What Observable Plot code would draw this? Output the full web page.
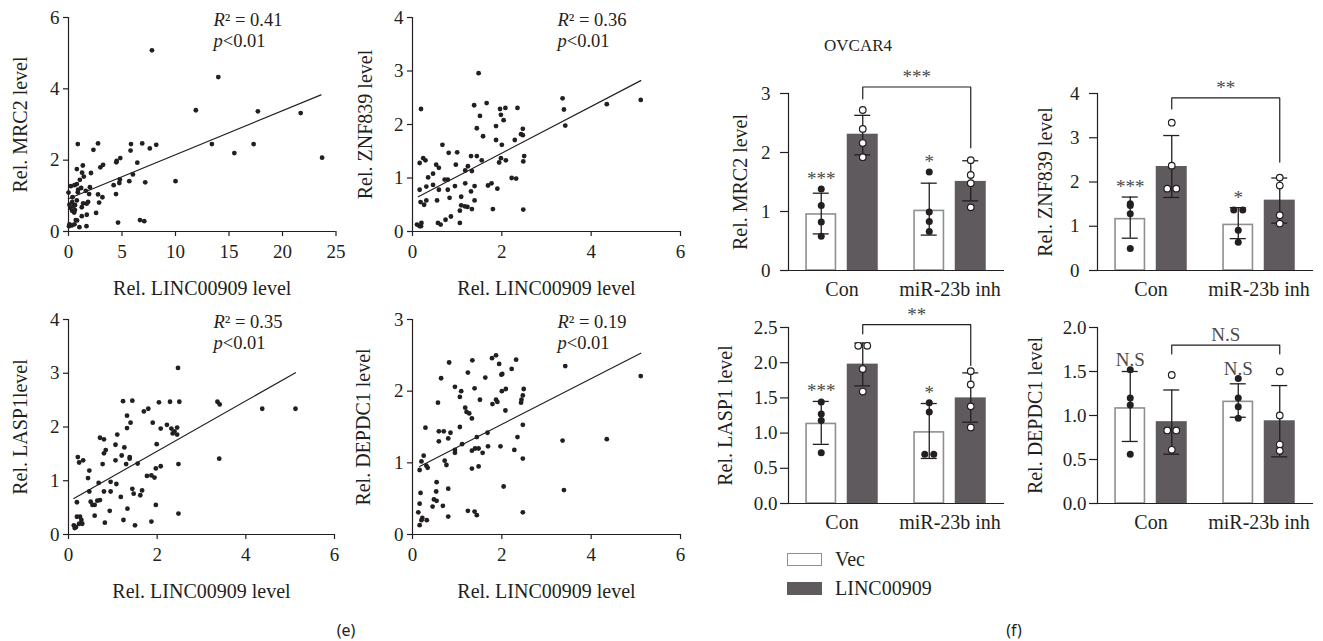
<!DOCTYPE html>
<html>
<head>
<meta charset="utf-8">
<script src="https://cdn.jsdelivr.net/npm/d3@7"></script>
<script src="https://cdn.jsdelivr.net/npm/@observablehq/plot@0.6"></script>
<style>
  html, body { margin: 0; padding: 0; background: #fff; }
  body { width: 1323px; height: 641px; position: relative; overflow: hidden; font-family: "Liberation Serif", "Times New Roman", serif; color: #231f20; }
  .panel { position: absolute; }
  .note { position: absolute; text-align: center; white-space: nowrap; }
  .legend { position: absolute; font-size: 20px; }
  .legend .row { display: flex; align-items: center; height: 29px; }
  .legend .sw { width: 35px; height: 13px; box-sizing: border-box; margin-right: 13px; }
  .caption { position: absolute; width: 60px; text-align: center; font-family: "Noto Sans", sans-serif; font-size: 16px; line-height: 20px; }
</style>
</head>
<body>
<script>
// ---------------- DATA ----------------
const xLabel = "Rel. LINC00909 level";

// (e) scatter plots: [Rel. LINC00909 level, Rel. gene level]
const mrc2Scatter = [[7.8,5.08],[14.0,4.33],[11.9,3.40],[17.7,3.37],[21.7,3.32],[23.7,2.07],[13.4,2.45],[17.3,2.45],[15.5,2.20],[10.0,1.41],
  [0.87,2.45],[2.76,2.47],[2.33,2.29],[5.84,2.45],[6.89,2.47],[7.6,2.33],[8.2,2.43],[5.8,2.27],
  [1.34,1.85],[0.78,1.75],[1.27,1.65],[1.43,1.54],[2.1,1.64],[2.98,1.80],[3.23,1.87],[4.47,1.94],[4.5,1.98],[4.84,2.06],[6.43,1.93],
  [4.8,1.46],[4.75,1.36],[5.68,1.41],[6.02,1.60],[7.17,1.38],[4.22,1.30],[4.44,1.05],[4.63,0.25],[6.68,0.32],[7.08,0.29],
  [2.76,1.04],[2.86,0.81],[3.17,0.96],[2.58,0.52],
  [0.0,1.09],[0.22,1.27],[0.56,1.30],[0.78,1.33],[1.06,1.45],[0.9,1.17],[1.18,1.22],[1.61,1.14],[1.93,1.05],[2.0,1.24],
  [1.7,0.78],[1.83,0.83],[1.37,0.79],[1.24,0.68],[0.62,0.74],[0.34,0.58],[0.53,0.53],[0.09,0.75],
  [0.09,0.2],[0.31,0.17],[0.56,0.2],[0.68,0.32],[1.02,0.12],[1.68,0.15],[1.24,0.43],[1.71,0.47],[0.8,0.31],
  [0.37,0.96],[0.87,1.10],[0.34,0.82],[0.78,0.87],[0.05,0.15],[0.2,0.66],[0.5,0.72],[0.6,0.6]];
const mrc2Fit = [[0, 0.92], [23.6, 3.83]];

const znf839Scatter = [[1.48,2.96],[0.19,2.29],[3.36,2.49],[3.39,2.28],[3.42,1.98],[4.35,2.38],[5.11,2.46],[1.38,2.36],[1.66,2.40],[1.51,2.16],
  [1.44,1.93],[1.58,1.78],[1.96,2.29],[2.08,2.31],[2.35,2.31],[1.98,2.18],[2.04,2.08],[1.87,1.97],[1.87,1.71],[2.0,1.62],
  [2.29,1.71],[2.43,1.82],[2.47,1.92],[2.47,1.80],[2.5,1.41],[2.48,1.31],[1.98,1.37],[1.94,1.29],[2.09,1.33],[2.22,1.00],
  [2.32,0.99],[2.48,0.41],[1.90,0.80],[1.80,0.42],[1.69,0.86],[1.77,0.90],[1.55,1.33],[1.44,1.41],[1.31,1.41],[1.39,0.85],
  [1.31,0.75],[1.39,0.58],[1.33,0.42],[1.23,0.46],[1.17,0.47],[1.09,0.49],[1.06,0.39],[1.06,0.16],[1.18,0.90],[1.24,1.22],
  [1.18,1.14],[1.33,1.13],[1.09,0.65],[0.97,1.25],[1.0,1.48],[0.81,1.47],[0.67,1.62],[0.72,0.97],[0.79,0.97],[0.79,0.78],
  [0.83,0.63],[0.95,0.85],[0.74,0.22],[0.86,0.28],[0.57,0.16],[0.63,0.13],[0.55,0.58],[0.53,1.25],[0.59,1.19],[0.46,1.08],
  [0.46,0.87],[0.59,0.78],[0.35,1.01],[0.31,0.84],[0.31,0.58],[0.24,1.37],[0.29,1.33],[0.16,1.28],[0.16,0.78],[0.18,0.55],
  [0.26,0.50],[0.10,0.13],[0.16,0.10],[0.20,0.16],[0.19,0.10]];
const znf839Fit = [[0.13, 0.65], [5.11, 2.82]];

const lasp1Scatter = [[2.47,3.10],[1.23,2.48],[1.44,2.49],[1.80,2.34],[1.70,2.29],[2.04,2.46],[2.29,2.47],[2.50,2.47],[3.36,2.47],[3.41,2.42],
  [4.37,2.34],[5.12,2.34],[3.40,1.41],[1.32,2.21],[1.40,2.08],[1.32,1.98],[1.10,1.86],[0.71,1.80],[0.80,1.77],[0.84,1.57],
  [0.80,1.51],[1.06,1.67],[1.26,1.62],[1.20,1.47],[1.38,1.41],[1.38,1.44],[1.30,1.31],[1.06,1.38],[0.77,1.31],[1.56,1.32],
  [1.90,2.08],[2.22,2.04],[2.08,1.97],[2.32,1.97],[2.39,1.92],[2.35,1.88],[2.45,1.99],[2.45,1.86],[2.48,1.31],[1.99,1.68],
  [1.97,1.23],[2.08,1.27],[1.77,1.09],[1.87,1.10],[1.94,1.06],[1.97,0.55],[2.48,0.39],[1.87,0.24],[1.50,0.17],[1.24,0.27],
  [1.33,0.48],[1.44,0.85],[1.47,0.76],[1.62,0.73],[1.66,0.82],[1.18,0.70],[1.08,0.94],[0.95,0.98],[0.95,0.80],[0.93,0.44],
  [0.82,0.22],[0.80,0.80],[0.47,1.19],[0.44,1.05],[0.68,0.96],[0.47,0.80],[0.50,0.61],[0.59,0.55],[0.65,0.63],[0.71,0.64],
  [0.59,0.35],[0.54,0.55],[0.21,1.44],[0.24,1.34],[0.33,1.38],[0.19,0.60],[0.19,0.33],[0.26,0.33],[0.29,0.27],[0.31,0.20],
  [0.24,0.20],[0.12,0.17],[0.14,0.12],[0.17,0.14]];
const lasp1Fit = [[0.12, 0.67], [5.12, 3.01]];

const depdc1Scatter = [[5.11,2.21],[3.42,2.35],[3.36,1.31],[4.35,1.33],[3.39,0.62],[1.87,2.50],[1.78,2.46],[1.34,2.43],[0.82,2.40],[1.24,2.26],
  [2.32,2.44],[2.22,2.31],[1.94,2.38],[1.99,2.23],[2.01,2.24],[1.63,2.19],[0.64,2.18],[0.95,2.06],[1.09,2.00],[1.06,1.92],
  [1.39,2.04],[2.00,2.00],[2.09,2.03],[2.49,2.03],[2.47,1.94],[2.44,1.88],[2.43,1.84],[1.51,1.88],[1.87,1.88],[1.90,1.85],
  [1.79,1.82],[0.57,1.84],[1.18,1.77],[1.21,1.71],[1.27,1.69],[1.33,1.62],[2.08,1.73],[1.06,1.50],[0.29,1.49],[0.59,1.44],
  [0.70,1.44],[0.85,1.42],[0.59,1.30],[0.80,1.34],[1.44,1.36],[1.68,1.42],[2.35,1.36],[2.47,1.53],[1.11,1.26],[1.48,1.20],
  [1.40,1.20],[1.69,1.23],[1.97,1.23],[1.57,1.14],[2.28,1.18],[0.95,1.18],[0.95,1.14],[1.33,1.17],[0.25,1.10],[0.20,1.02],
  [0.72,1.03],[0.76,0.97],[0.31,0.96],[0.34,0.93],[0.16,0.90],[1.33,0.92],[1.48,0.95],[2.47,1.06],[2.04,0.67],[0.54,0.73],
  [0.80,0.64],[0.53,0.60],[0.18,0.58],[0.48,0.49],[0.54,0.47],[0.45,0.39],[0.68,0.40],[0.16,0.43],[0.13,0.31],[0.22,0.23],
  [0.32,0.20],[0.80,0.25],[1.24,0.33],[1.39,0.32],[1.44,0.27],[2.47,0.31],[0.16,0.13],[0.20,0.20]];
const depdc1Fit = [[0.16, 0.95], [5.11, 2.53]];

const mrc2XTicks = [0, 5, 10, 15, 20, 25];
const linc6XTicks = [0, 2, 4, 6];
const mrc2ScatterYTicks = [0, 2, 4, 6];
const znf839ScatterYTicks = [0, 1, 2, 3, 4];
const lasp1ScatterYTicks = [0, 1, 2, 3, 4];
const depdc1ScatterYTicks = [0, 1, 2, 3];
const statTexts = ["R² = 0.41\np<0.01", "R² = 0.36\np<0.01", "R² = 0.35\np<0.01", "R² = 0.19\np<0.01"];

// (f) OVCAR4 bar charts; values in order [Con·Vec, Con·LINC00909, miR·Vec, miR·LINC00909]
const categories = ["Con", "miR-23b inh"];
const groups = ["Vec", "LINC00909"];
const cellLine = "OVCAR4";

const mrc2Mean = [0.95, 2.31, 1.01, 1.51];
const mrc2Low  = [0.62, 1.96, 0.60, 1.18];
const mrc2High = [1.31, 2.63, 1.48, 1.86];
const mrc2Points = [[1.38, 1.10, 0.82, 0.58], [2.72, 2.40, 2.16, 1.92], [1.67, 0.99, 0.83, 0.66], [1.87, 1.62, 1.48, 1.07]];
const mrc2Sig = ["***", "", "*", ""];
const mrc2Bracket = {label: "***", y: 3.11, left: 2.91, right: 2.08};

const znf839Mean = [1.16, 2.35, 1.03, 1.59];
const znf839Low  = [0.73, 1.65, 0.72, 1.07];
const znf839High = [1.66, 3.05, 1.42, 2.09];
const znf839Points = [[1.51, 1.47, 1.28, 0.50], [3.34, 2.37, 1.85, 1.85], [1.37, 1.37, 0.91, 0.64], [2.10, 1.92, 1.25, 1.06]];
const znf839Sig = ["***", "", "*", ""];
const znf839Bracket = {label: "**", y: 3.90, left: 3.65, right: 2.45};

const lasp1Mean = [1.13, 1.98, 1.01, 1.50];
const lasp1Low  = [0.84, 1.67, 0.64, 1.155];
const lasp1High = [1.45, 2.28, 1.42, 1.855];
const lasp1Points = [[1.44, 1.27, 1.18, 0.72], [2.24, 2.24, 1.91, 1.59], [1.43, 1.30, 0.70, 0.70], [1.88, 1.69, 1.38, 1.08]];
const lasp1Sig = ["***", "", "*", ""];
const lasp1Bracket = {label: "**", y: 2.54, left: 2.41, right: 1.96};

const depdc1Mean = [1.08, 0.93, 1.155, 0.94];
const depdc1Low  = [0.705, 0.56, 0.98, 0.53];
const depdc1High = [1.50, 1.29, 1.36, 1.34];
const depdc1Points = [[1.52, 1.20, 1.12, 0.56], [1.46, 0.83, 0.83, 0.61], [1.42, 1.20, 1.10, 0.97], [1.50, 1.00, 0.67, 0.60]];
const depdc1Sig = ["N.S", "", "N.S", ""];
const depdc1Bracket = {label: "N.S", y: 1.80, left: 1.70, right: 1.70};

const intTicks3 = [0, 1, 2, 3];
const intTicks4 = [0, 1, 2, 3, 4];
const lasp1BarTicks = [0, 0.5, 1.0, 1.5, 2.0, 2.5];
const depdc1BarTicks = [0, 0.5, 1.0, 1.5, 2.0];

// ---------------- STYLE ----------------
const SERIF = "'Liberation Serif', 'Times New Roman', serif";
const INK = "#231f20";
const DARK = "#5f5a5e";
const VEC_EDGE = "#8f8f8f";
const SIG = "#4a4a4a";
const DODGE = 4.5;   // px sideways for replicate dots sharing the same value
const fmtInt = d3.format("d"), fmt1 = d3.format(".1f");

function baseStyle() {
  return {fontFamily: SERIF, fontSize: "19px", color: INK, background: "transparent", overflow: "visible", maxWidth: "none"};
}

function place(svg, left, top) {
  const d = document.createElement("div");
  d.className = "panel";
  d.style.left = left + "px";
  d.style.top = top + "px";
  d.appendChild(svg);
  document.body.appendChild(d);
}

function tuneText(svg) {
  svg.querySelectorAll('g[aria-label$="axis label"]').forEach(g => g.style.fontSize = "20px");
  svg.querySelectorAll('g[aria-description="stat"] text').forEach(text => {
    const spans = text.querySelectorAll("tspan");
    const lines = spans.length ? [...spans] : [text];
    lines.forEach(el => {
      const s = el.textContent;
      el.textContent = "";
      const it = document.createElementNS("http://www.w3.org/2000/svg", "tspan");
      it.setAttribute("font-style", "italic");
      it.textContent = s[0];
      el.appendChild(it);
      el.appendChild(document.createTextNode(s.slice(1)));
    });
  });
}

// ---------------- SCATTER PANELS ----------------
function scatterPanel({points, fit, xTicks, yTicks, yLabel, stat, frame}) {
  const mL = 80, mR = 20, mT = 20, mB = 75;
  const xMax = xTicks[xTicks.length - 1], yMax = yTicks[yTicks.length - 1];
  const svg = Plot.plot({
    width: mL + frame.w + mR, height: mT + frame.h + mB,
    marginLeft: mL, marginRight: mR, marginTop: mT, marginBottom: mB,
    style: baseStyle(),
    x: {domain: [0, xMax]},
    y: {domain: [0, yMax]},
    marks: [
      Plot.axisX(xTicks, {anchor: "bottom", tickSize: 5, tickPadding: 8, strokeWidth: 1.2, tickFormat: fmtInt,
        label: xLabel, labelAnchor: "center", labelOffset: 63, labelArrow: "none"}),
      Plot.axisY(yTicks, {anchor: "left", tickSize: 5, tickPadding: 4, strokeWidth: 1.2, tickFormat: fmtInt,
        label: yLabel, labelAnchor: "center", labelOffset: frame.lo, labelArrow: "none"}),
      Plot.ruleX([0], {y1: 0, y2: yMax, stroke: INK, strokeWidth: 1.2}),
      Plot.ruleY([0], {x1: 0, x2: xMax, stroke: INK, strokeWidth: 1.2}),
      Plot.line(fit, {x: d => d[0], y: d => d[1], stroke: INK, strokeWidth: 1.2}),
      Plot.dot(points, {x: d => d[0], y: d => d[1], r: 2.4, fill: INK}),
      Plot.text([stat], {text: d => d, frameAnchor: "top-left", dx: 145, dy: -6, textAnchor: "start",
        lineAnchor: "top", lineHeight: 1.12, fontSize: 18.5, fill: INK, ariaDescription: "stat"})
    ]
  });
  tuneText(svg);
  place(svg, frame.left - mL, frame.top - mT);
}

// ---------------- BAR PANELS ----------------
const PAD_INNER = 0.42;            // band padding; outer = inner/2 so step = width / 4
const GROUP_SHIFT = 6.25;          // pulls each Vec/LINC pair together (px)

// replicate dots of one bar; dots sharing a value are set side by side (-1 / +1)
function dotsOf(set) {
  return set.flatMap(r => r.pts.map((v, j) => {
    const twins = r.pts.map((w, k) => [w, k]).filter(([w]) => Math.abs(w - v) < 0.03).map(([, k]) => k);
    const side = twins.length > 1 ? (twins.indexOf(j) === 0 ? -1 : 1) : 0;
    return {key: r.key, v, side};
  }));
}

function barPanel({mean, low, high, points, sig, bracket, yTicks, tickFormat, yLabel, frame}) {
  const mL = 90, mR = 20, mT = 50, mB = 45;
  const yMax = yTicks[yTicks.length - 1];
  const rows = categories.flatMap((c, ci) => groups.map((g, gi) => {
    const i = ci * groups.length + gi;
    return {key: c + "|" + g, cat: c, grp: g, mean: mean[i], lo: low[i], hi: high[i],
            pts: points[i], sig: sig[i], top: Math.max(high[i], ...points[i])};
  }));
  const keys = rows.map(r => r.key);
  const step = frame.w / keys.length;
  const vec = rows.filter(r => r.grp === groups[0]);
  const linc = rows.filter(r => r.grp === groups[1]);
  const vecDots = dotsOf(vec);
  const lincDots = dotsOf(linc);
  const bracketPath = [
    {key: linc[0].key, y: bracket.left}, {key: linc[0].key, y: bracket.y},
    {key: linc[1].key, y: bracket.y}, {key: linc[1].key, y: bracket.right}
  ];
  const errMarks = (set, sh) => [
    Plot.ruleX(set, {x: "key", y1: "lo", y2: "hi", stroke: INK, strokeWidth: 1.3, dx: sh}),
    Plot.tickY(set, {x: "key", y: "lo", stroke: INK, strokeWidth: 1.3, insetLeft: 7.5, insetRight: 7.5, dx: sh}),
    Plot.tickY(set, {x: "key", y: "hi", stroke: INK, strokeWidth: 1.3, insetLeft: 7.5, insetRight: 7.5, dx: sh})
  ];
  const dotMarks = (dots, sh, style) => [-1, 0, 1].map(side =>
    Plot.dot(dots.filter(d => d.side === side), {x: "key", y: "v", dx: sh + side * DODGE, ...style}));
  const svg = Plot.plot({
    width: mL + frame.w + mR, height: mT + frame.h + mB,
    marginLeft: mL, marginRight: mR, marginTop: mT, marginBottom: mB,
    style: baseStyle(),
    x: {type: "band", domain: keys, paddingInner: PAD_INNER, paddingOuter: PAD_INNER / 2, axis: null},
    y: {domain: [0, yMax]},
    marks: [
      Plot.axisY(yTicks, {anchor: "left", tickSize: 8, tickPadding: frame.tp, tickFormat, strokeWidth: 1.2,
        label: yLabel, labelAnchor: "center", labelOffset: frame.lo, labelArrow: "none"}),
      Plot.barY(vec, {x: "key", y: "mean", fill: "#fff", stroke: VEC_EDGE, strokeWidth: 1.6,
        insetLeft: 0.8, insetRight: 0.8, dx: GROUP_SHIFT}),
      Plot.barY(linc, {x: "key", y: "mean", fill: DARK, dx: -GROUP_SHIFT}),
      Plot.frame({anchor: "left", stroke: INK, strokeWidth: 1.2}),
      Plot.ruleY([0], {stroke: INK, strokeWidth: 1.2}),
      ...errMarks(vec, GROUP_SHIFT),
      ...errMarks(linc, -GROUP_SHIFT),
      ...dotMarks(vecDots, GROUP_SHIFT, {r: 3.5, fill: INK}),
      ...dotMarks(lincDots, -GROUP_SHIFT, {r: 3.3, fill: "#fff", stroke: INK, strokeWidth: 1.2}),
      Plot.text(vec, {x: "key", y: "top", text: "sig", lineAnchor: "bottom", dy: -4, dx: GROUP_SHIFT, fill: SIG, fontSize: 19}),
      Plot.line(bracketPath, {x: "key", y: "y", stroke: INK, strokeWidth: 1.2, dx: -GROUP_SHIFT}),
      Plot.text([bracket], {x: () => vec[1].key, y: "y", text: "label", lineAnchor: "bottom", dy: -4, dx: -GROUP_SHIFT, fill: SIG, fontSize: 19}),
      Plot.text(vec, {x: "key", text: "cat", frameAnchor: "bottom", lineAnchor: "top", dy: 11, dx: step / 2, fill: INK, fontSize: 20})
    ]
  });
  tuneText(svg);
  place(svg, frame.left - mL, frame.top - mT);
}

// ---------------- LAYOUT ----------------
scatterPanel({points: mrc2Scatter, fit: mrc2Fit, xTicks: mrc2XTicks, yTicks: mrc2ScatterYTicks,
  yLabel: "Rel. MRC2 level", stat: statTexts[0], frame: {left: 68, top: 17, w: 267.5, h: 214, lo: 56}});
scatterPanel({points: znf839Scatter, fit: znf839Fit, xTicks: linc6XTicks, yTicks: znf839ScatterYTicks,
  yLabel: "Rel. ZNF839 level", stat: statTexts[1], frame: {left: 412, top: 17, w: 268, h: 214, lo: 55}});
scatterPanel({points: lasp1Scatter, fit: lasp1Fit, xTicks: linc6XTicks, yTicks: lasp1ScatterYTicks,
  yLabel: "Rel. LASP1level", stat: statTexts[2], frame: {left: 68, top: 319, w: 266, h: 215, lo: 56}});
scatterPanel({points: depdc1Scatter, fit: depdc1Fit, xTicks: linc6XTicks, yTicks: depdc1ScatterYTicks,
  yLabel: "Rel. DEPDC1 level", stat: statTexts[3], frame: {left: 412, top: 319, w: 268, h: 215, lo: 57}});

barPanel({mean: mrc2Mean, low: mrc2Low, high: mrc2High, points: mrc2Points, sig: mrc2Sig, bracket: mrc2Bracket,
  yTicks: intTicks3, tickFormat: fmtInt, yLabel: "Rel. MRC2 level", frame: {left: 788, top: 93, w: 216, h: 177, tp: 10, lo: 56}});
barPanel({mean: znf839Mean, low: znf839Low, high: znf839High, points: znf839Points, sig: znf839Sig, bracket: znf839Bracket,
  yTicks: intTicks4, tickFormat: fmtInt, yLabel: "Rel. ZNF839 level", frame: {left: 1097, top: 93, w: 216, h: 177, tp: 10, lo: 60}});
barPanel({mean: lasp1Mean, low: lasp1Low, high: lasp1High, points: lasp1Points, sig: lasp1Sig, bracket: lasp1Bracket,
  yTicks: lasp1BarTicks, tickFormat: fmt1, yLabel: "Rel. LASP1 level", frame: {left: 788, top: 327, w: 216, h: 176, tp: 3, lo: 71}});
barPanel({mean: depdc1Mean, low: depdc1Low, high: depdc1High, points: depdc1Points, sig: depdc1Sig, bracket: depdc1Bracket,
  yTicks: depdc1BarTicks, tickFormat: fmt1, yLabel: "Rel. DEPDC1 level", frame: {left: 1097, top: 327, w: 216, h: 176, tp: 3, lo: 70}});

// ---------------- TITLE, LEGEND, CAPTIONS ----------------
const title = document.createElement("div");
title.className = "note";
title.style.cssText = "left:808px;top:36px;width:100px;font-size:17px;line-height:20px;";
title.textContent = cellLine;
document.body.appendChild(title);

const legend = document.createElement("div");
legend.className = "legend";
legend.style.left = "787px";
legend.style.top = "545px";
groups.forEach((g, i) => {
  const row = document.createElement("div");
  row.className = "row";
  const sw = document.createElement("span");
  sw.className = "sw";
  sw.style.background = i === 0 ? "#fff" : DARK;
  sw.style.border = i === 0 ? `1.5px solid ${VEC_EDGE}` : "none";
  row.appendChild(sw);
  row.appendChild(document.createTextNode(g));
  legend.appendChild(row);
});
document.body.appendChild(legend);

[["(e)", 316], ["(f)", 984]].forEach(([t, left]) => {
  const c = document.createElement("div");
  c.className = "caption";
  c.style.left = left + "px";
  c.style.top = "620px";
  c.textContent = t;
  document.body.appendChild(c);
});
</script>
</body>
</html>
